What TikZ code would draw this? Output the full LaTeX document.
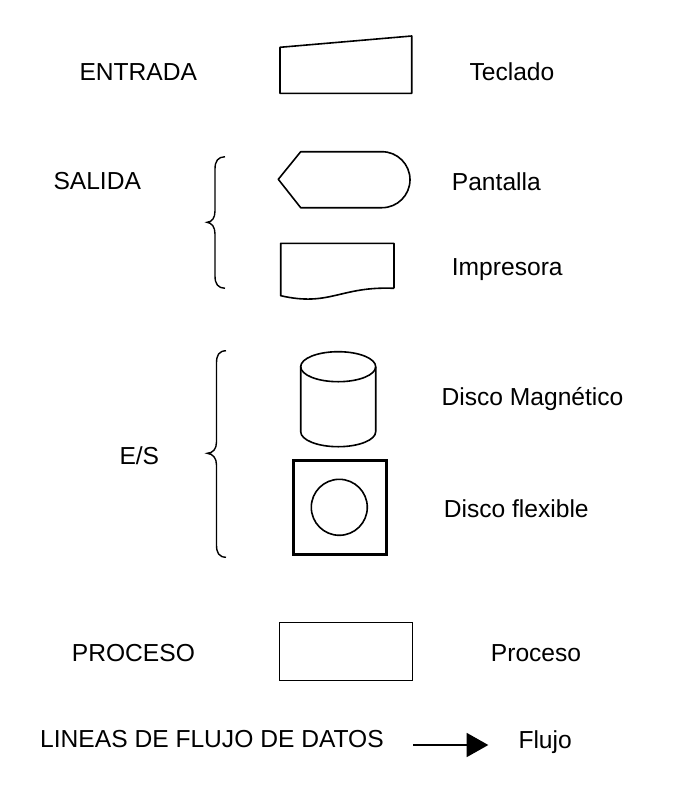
\documentclass[tikz,border=0pt]{standalone}
\usepackage{fontspec}
\setmainfont{Liberation Sans}
\usetikzlibrary{arrows.meta,positioning}

\tikzset{
	etiqueta/.style={anchor=base west,inner sep=0pt,font=\fontsize{24.6}{29}\selectfont},
	figura/.style={draw,line width=1.6pt,line join=round},
	llave/.style={draw,line width=1.4pt}
}

\begin{document}
\begin{tikzpicture}[x=1pt,y=-1pt]
		\useasboundingbox (0,0) rectangle (684,796);
		\begin{scope}
			% textos de la izquierda
			\node(entrada) [etiqueta] at (79.3,80.7) {ENTRADA};
			\node(salida) [etiqueta] at (53.3,189.3) {SALIDA};
			\node(es) [etiqueta] at (119.3,464) {E/S};
			\node(proceso) [etiqueta] at (71.7,661) {PROCESO};
			\node(lineas) [etiqueta] at (40,747.7) {LINEAS DE FLUJO DE DATOS};
			% textos de la derecha
			\node(teclado) [etiqueta] at (469.3,80.7) {Teclado};
			\node(pantalla) [etiqueta] at (451.7,190) {Pantalla};
			\node(impresora) [etiqueta] at (451.7,275) {Impresora};
			\node(magnetico) [etiqueta] at (441.4,405) {Disco Magnético};
			\node(flexible) [etiqueta] at (443.6,517.3) {Disco flexible};
			\node(proc) [etiqueta] at (490.7,661) {Proceso};
			\node(flujo) [etiqueta] at (518.3,748.3) {Flujo};
		\end{scope}
		\begin{scope}
			% llaves
			\path[llave] (225,156.7) .. controls (218,157) and (215,161) .. (215,169) -- (215,211) .. controls (215,218) and (212,222) .. (207,222.3) .. controls (212,223) and (215,227) .. (215,234) -- (215,276) .. controls (215,284) and (218,288) .. (225,288.3);
			\path[llave] (226,350.7) .. controls (219,351) and (216.5,355) .. (216.5,363) -- (216.5,442) .. controls (216.5,449) and (213,453) .. (207.3,453.3) .. controls (213,454) and (216.5,458) .. (216.5,465) -- (216.5,545) .. controls (216.5,553) and (219,557) .. (226,557.3);
			% teclado
			\path[figura] (280,47.3) -- (411.7,36) -- (411.7,93.3) -- (280,93.3) -- cycle;
			% pantalla
			\path[figura] (278.3,179.3) -- (300.7,151.7) -- (382,151.7) arc[start angle=90,end angle=-90,radius=28pt] -- (300.7,207.7) -- cycle;
			% impresora
			\path[figura] (394,288.3) -- (394,243.3) -- (280.7,243.3) -- (280.7,295.7) .. controls (330,307) and (340,286) .. (394,288.3);
			% disco magnetico
			\path[figura] (300.7,366.7) -- (300.7,431.7) arc[start angle=180,end angle=360,x radius=37.5pt,y radius=15pt] -- (375.7,366.7);
			\path[figura] (338.2,366.7) ellipse[x radius=37.5pt,y radius=15pt];
			% disco flexible
			\path[figura,line width=3pt,line join=miter] (293.3,460) rectangle (386.7,554.3);
			\path[figura] (339.3,507.3) circle[radius=28pt];
			% proceso
			\path[draw,line width=0.9pt] (279.2,622.3) rectangle (412.7,680.3);
			% flujo
			\coordinate(desde) at (413.3,745);
			\coordinate(hasta) at (488.3,745);
			\draw[line width=1.5pt,-{Triangle[length=21.6pt,width=24pt]}] (desde) -- (hasta);
		\end{scope}
	\end{tikzpicture}
\end{document}
